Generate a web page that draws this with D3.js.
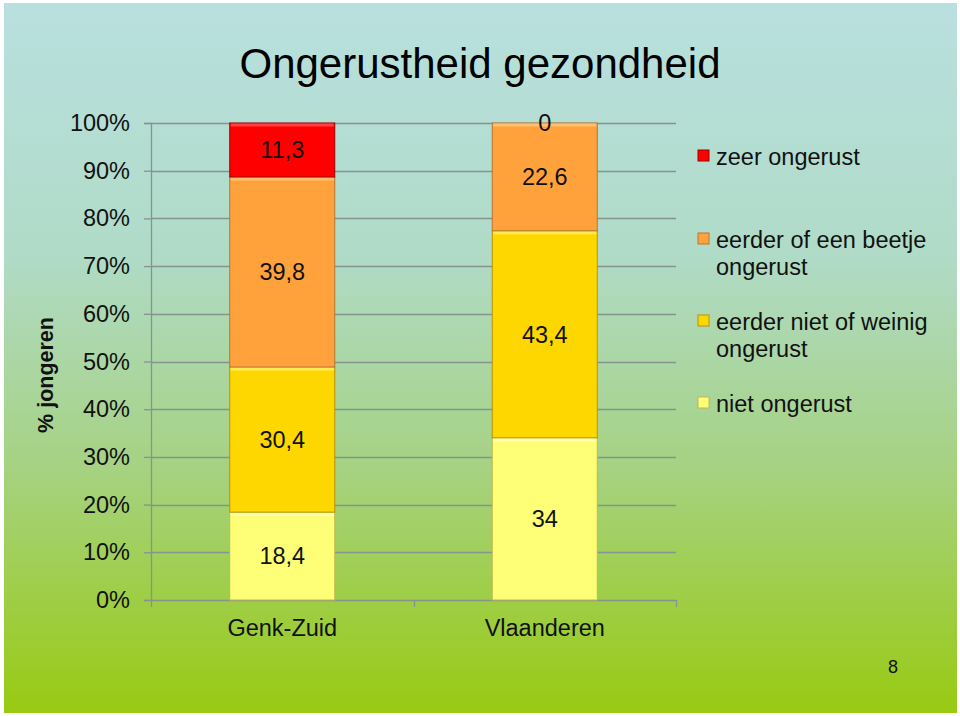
<!DOCTYPE html>
<html><head><meta charset="utf-8">
<script src="https://cdn.jsdelivr.net/npm/d3@7"></script>
<style>html,body{margin:0;padding:0;background:#fff;}svg{display:block;font-family:"Liberation Sans",Arial,sans-serif;}</style>
</head><body>
<script>
const title = "Ongerustheid gezondheid";
const categories = ["Genk-Zuid", "Vlaanderen"];
const seriesNames = ["niet ongerust", "eerder niet of weinig ongerust", "eerder of een beetje ongerust", "zeer ongerust"];
const legendLines = [["zeer ongerust"], ["eerder of een beetje", "ongerust"], ["eerder niet of weinig", "ongerust"], ["niet ongerust"]];
const nietOngerust = [18.4, 34];
const eerderNiet = [30.4, 43.4];
const eerderBeetje = [39.8, 22.6];
const zeerOngerust = [11.3, 0];
const yTicks = [0, 0.1, 0.2, 0.3, 0.4, 0.5, 0.6, 0.7, 0.8, 0.9, 1.0];
const yTitle = "% jongeren";
const pageNumber = "8";
const colors = ["#ffff77", "#ffd700", "#ffa23c", "#ff0000"];
const strokes = ["#c0b850", "#b89400", "#b87430", "#a00000"];
const highlights = ["#ffffb0", "#ffee55", "#ffc070", "#ff4040"];

const FS = 23.5;
const W = 960, H = 716;
const svg = d3.select("body").append("svg").attr("width", W).attr("height", H);
const defs = svg.append("defs");
const bg = defs.append("linearGradient").attr("id", "bg").attr("x1", 0).attr("y1", 0).attr("x2", 0).attr("y2", 1);
bg.append("stop").attr("offset", "0%").attr("stop-color", "#b9e0df");
bg.append("stop").attr("offset", "35%").attr("stop-color", "#b0dbc8");
bg.append("stop").attr("offset", "65%").attr("stop-color", "#a6d283");
bg.append("stop").attr("offset", "100%").attr("stop-color", "#98ca12");
svg.append("rect").attr("x", 4).attr("y", 3).attr("width", 953).attr("height", 710).attr("fill", "url(#bg)");

const m = {left: 151, right: 676, top: 123, bottom: 600};
const x = d3.scaleBand().domain(categories).range([m.left, m.right]).paddingInner(0.6).paddingOuter(0.3);
const y = d3.scaleLinear().domain([0, 1]).range([m.bottom, m.top]);
const gridColor = "#85948e";

// gridlines
svg.append("g").selectAll("line").data(yTicks.filter(d => d > 0)).join("line")
  .attr("x1", m.left).attr("x2", m.right)
  .attr("y1", d => Math.round(y(d)) + 0.5).attr("y2", d => Math.round(y(d)) + 0.5)
  .attr("stroke", gridColor).attr("stroke-width", 1.3);

// y axis
const yAxis = svg.append("g").attr("transform", `translate(${m.left},0)`)
  .call(d3.axisLeft(y).tickValues(yTicks).tickFormat(d3.format(".0%")).tickSize(7).tickPadding(14));
yAxis.select(".domain").attr("stroke", gridColor).attr("stroke-width", 1.3);
yAxis.selectAll(".tick line").attr("stroke", gridColor).attr("stroke-width", 1.3);
yAxis.selectAll("text").attr("font-size", FS).attr("fill", "#111").attr("font-family", "Liberation Sans, Arial, sans-serif");

// x axis
const xAxis = svg.append("g").attr("transform", `translate(0,${m.bottom})`)
  .call(d3.axisBottom(x).tickSize(0).tickPadding(19));
xAxis.select(".domain").remove();
svg.append("line").attr("x1", m.left).attr("x2", m.right).attr("y1", m.bottom + 0.5).attr("y2", m.bottom + 0.5).attr("stroke", gridColor).attr("stroke-width", 1.3);
[m.left, (m.left + m.right) / 2, m.right].forEach(xx => {
  svg.append("line").attr("x1", Math.round(xx) + 0.5).attr("x2", Math.round(xx) + 0.5).attr("y1", m.bottom).attr("y2", m.bottom + 7).attr("stroke", gridColor).attr("stroke-width", 1.3);
});
xAxis.selectAll("text").attr("font-size", FS).attr("fill", "#111").attr("font-family", "Liberation Sans, Arial, sans-serif");

// stacked data
const rows = categories.map((c, i) => ({cat: c, s0: nietOngerust[i], s1: eerderNiet[i], s2: eerderBeetje[i], s3: zeerOngerust[i]}));
const stack = d3.stack().keys(["s0", "s1", "s2", "s3"]).offset(d3.stackOffsetExpand);
const stacked = stack(rows);
const fmt = d3.formatLocale({decimal: ",", thousands: ".", grouping: [3], currency: ["", ""]}).format("~r");

stacked.forEach((layer, li) => {
  const g = svg.append("g");
  layer.forEach(d => {
    const x0 = x(d.data.cat), bw = x.bandwidth();
    const yt = y(d[1]), yb = y(d[0]), h = yb - yt;
    if (h > 0.5) {
      g.append("rect").attr("x", x0).attr("y", yt).attr("width", bw).attr("height", h)
        .attr("fill", colors[li]).attr("stroke", strokes[li]).attr("stroke-width", 1);
      g.append("rect").attr("x", x0 + 1).attr("y", yt + 0.5).attr("width", bw - 2).attr("height", 3)
        .attr("fill", highlights[li]);
    }
    const val = d.data[layer.key];
    svg.append("text").attr("x", x0 + bw / 2).attr("y", (yt + yb) / 2).attr("dy", "0.35em")
      .attr("text-anchor", "middle").attr("font-size", FS).attr("fill", "#111")
      .text(fmt(val));
  });
});

// title
svg.append("text").attr("x", 480).attr("y", 78).attr("text-anchor", "middle").attr("font-size", 42).attr("fill", "#000").text(title);

// y title
svg.append("text").attr("transform", "translate(53,375) rotate(-90)").attr("text-anchor", "middle")
  .attr("font-size", 21.5).attr("font-weight", "bold").attr("fill", "#111").text(yTitle);

// legend
const legendY = [157, 240, 322, 404];
const legendColorIdx = [3, 2, 1, 0];
legendLines.forEach((lines, i) => {
  const ly = legendY[i];
  const ci = legendColorIdx[i];
  svg.append("rect").attr("x", 698).attr("y", ly - 7).attr("width", 11).attr("height", 11)
    .attr("fill", colors[ci]).attr("stroke", strokes[ci]).attr("stroke-width", 1);
  lines.forEach((t, j) => {
    svg.append("text").attr("x", 716).attr("y", ly + j * 27).attr("dy", "0.35em")
      .attr("font-size", FS).attr("fill", "#111").text(t);
  });
});

// page number
svg.append("text").attr("x", 893).attr("y", 667).attr("dy", "0.35em").attr("text-anchor", "middle")
  .attr("font-size", 18).attr("fill", "#111").text(pageNumber);
</script>
</body></html>
